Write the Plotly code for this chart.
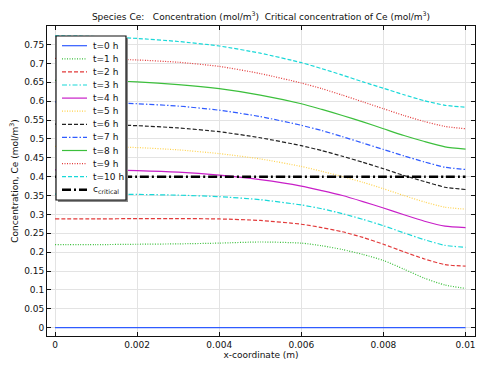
import plotly.graph_objects as go

# ---------------- data ----------------
x_coord = [0, 0.001, 0.002, 0.003, 0.004, 0.005, 0.006, 0.0065, 0.007, 0.0075,
           0.008, 0.0085, 0.009, 0.0095, 0.01]

t0 = [0.0] * 15
t1 = [0.220, 0.220, 0.221, 0.222, 0.224, 0.227, 0.224, 0.217, 0.207, 0.194, 0.178, 0.155, 0.131, 0.113, 0.104]
t2 = [0.288, 0.288, 0.289, 0.289, 0.288, 0.284, 0.274, 0.265, 0.254, 0.239, 0.221, 0.201, 0.182, 0.167, 0.163]
t3 = [0.354, 0.354, 0.353, 0.351, 0.347, 0.339, 0.325, 0.315, 0.302, 0.287, 0.270, 0.251, 0.233, 0.218, 0.213]
t4 = [0.418, 0.418, 0.416, 0.412, 0.404, 0.392, 0.375, 0.363, 0.350, 0.334, 0.317, 0.299, 0.282, 0.269, 0.265]
t5 = [0.480, 0.479, 0.477, 0.471, 0.461, 0.447, 0.427, 0.414, 0.400, 0.385, 0.368, 0.350, 0.333, 0.319, 0.314]
t6 = [0.539, 0.538, 0.535, 0.529, 0.519, 0.503, 0.482, 0.469, 0.454, 0.438, 0.421, 0.403, 0.387, 0.372, 0.366]
t7 = [0.598, 0.597, 0.593, 0.587, 0.576, 0.559, 0.536, 0.522, 0.506, 0.489, 0.472, 0.455, 0.439, 0.425, 0.419]
t8 = [0.655, 0.654, 0.651, 0.644, 0.633, 0.616, 0.593, 0.578, 0.562, 0.545, 0.527, 0.509, 0.493, 0.479, 0.473]
t9 = [0.713, 0.712, 0.709, 0.703, 0.692, 0.673, 0.648, 0.633, 0.616, 0.598, 0.580, 0.562, 0.546, 0.533, 0.527]
t10 = [0.773, 0.771, 0.766, 0.758, 0.746, 0.727, 0.702, 0.686, 0.669, 0.651, 0.634, 0.617, 0.601, 0.589, 0.584]
c_critical = [0.4] * 15

series = [t0, t1, t2, t3, t4, t5, t6, t7, t8, t9, t10, c_critical]
names = ["t=0 h", "t=1 h", "t=2 h", "t=3 h", "t=4 h", "t=5 h", "t=6 h", "t=7 h",
         "t=8 h", "t=9 h", "t=10 h", "c<sub>critical</sub>"]

x_ticks = [0, 0.002, 0.004, 0.006, 0.008, 0.01]

# ---------------- styles ----------------
BLUE, GREEN, RED, CYAN = "#2f5bff", "#3cbf3c", "#e23a3a", "#18d8d8"
MAGENTA, YELLOW, BLACK = "#c81fc8", "#ffd24d", "#222222"
SOLID, DOT, DASH, DASHDOT = "solid", "1px,1.5px", "4px,2px", "5px,2px,1.5px,2px"
colors = [BLUE, GREEN, RED, CYAN, MAGENTA, YELLOW, BLACK, BLUE, GREEN, RED, CYAN, "#000000"]
dashes = [SOLID, DOT, DASH, DASHDOT, SOLID, DOT, DASH, DASHDOT, SOLID, DOT, DASH, "9px,3px,2px,3px"]
widths = [1.2] * 11 + [2.5]

FONT = "DejaVu Sans"

fig = go.Figure()
for ys, nm, c, d, w in zip(series, names, colors, dashes, widths):
    fig.add_trace(go.Scatter(x=x_coord, y=ys, mode="lines", name=nm, showlegend=False,
                             line=dict(color=c, dash=d, width=w, shape="spline", smoothing=0.6)))

# plot-area pixel geometry (for the hand-made legend box)
L, R, T, B = 47, 475, 26, 336


def px(xp):
    return (xp - L) / (R - L)


def py(yp):
    return (B - yp) / (B - T)


shapes = []
annotations = []
# legend shadow and box
shapes.append(dict(type="rect", xref="paper", yref="paper", x0=px(58), x1=px(128), y0=py(202), y1=py(38),
                   fillcolor="#8a8a8a", line=dict(width=0), layer="above"))
shapes.append(dict(type="rect", xref="paper", yref="paper", x0=px(56), x1=px(126), y0=py(200), y1=py(36),
                   fillcolor="white", line=dict(color="#111111", width=1.2), layer="above"))
for i, (nm, c, d, w) in enumerate(zip(names, colors, dashes, widths)):
    yc = 45.7 + i * 13.1
    shapes.append(dict(type="line", xref="paper", yref="paper", x0=px(62), x1=px(87), y0=py(yc), y1=py(yc),
                       line=dict(color=c, dash=d, width=w if i < 11 else w), layer="above"))
    annotations.append(dict(xref="paper", yref="paper", x=px(91), y=py(yc), text=nm, showarrow=False,
                            xanchor="left", yanchor="middle", font=dict(family=FONT, size=9, color="#111111")))

fig.update_layout(
    width=483, height=370,
    margin=dict(l=L, r=483 - R, t=T, b=370 - B, autoexpand=False),
    paper_bgcolor="white", plot_bgcolor="white",
    font=dict(family=FONT, size=9, color="#111111"),
    title=dict(text="Species Ce:   Concentration (mol/m<sup>3</sup>)  Critical concentration of Ce (mol/m<sup>3</sup>)",
               x=(L + R) / 2 / 483, xanchor="center", y=1 - 17 / 370, yanchor="middle",
               font=dict(family=FONT, size=9, color="#111111")),
    shapes=shapes, annotations=annotations,
    showlegend=False,
)
fig.update_xaxes(range=[-0.000195, 0.01023], tickvals=x_ticks, ticktext=[str(v) for v in x_ticks],
                 showgrid=True, gridcolor="#e3e3e3", gridwidth=1, zeroline=False, automargin=False,
                 showline=True, linecolor="#111111", linewidth=1, mirror="ticks",
                 ticks="inside", ticklen=4, tickcolor="#111111",
                 title=dict(text="x-coordinate (m)", standoff=2, font=dict(family=FONT, size=9)),
                 tickfont=dict(family=FONT, size=9))
fig.update_yaxes(range=[-0.022, 0.799], dtick=0.05, tick0=0,
                 showgrid=True, gridcolor="#e3e3e3", gridwidth=1, zeroline=False, automargin=False,
                 showline=True, linecolor="#111111", linewidth=1, mirror="ticks",
                 ticks="inside", ticklen=4, tickcolor="#111111",
                 title=dict(text="Concentration, Ce (mol/m<sup>3</sup>)", standoff=4, font=dict(family=FONT, size=9)),
                 tickfont=dict(family=FONT, size=9))

fig.write_html("out.html", config={"displayModeBar": False, "staticPlot": True},
               post_script="document.body.style.margin='0px';document.body.style.overflow='hidden';")
